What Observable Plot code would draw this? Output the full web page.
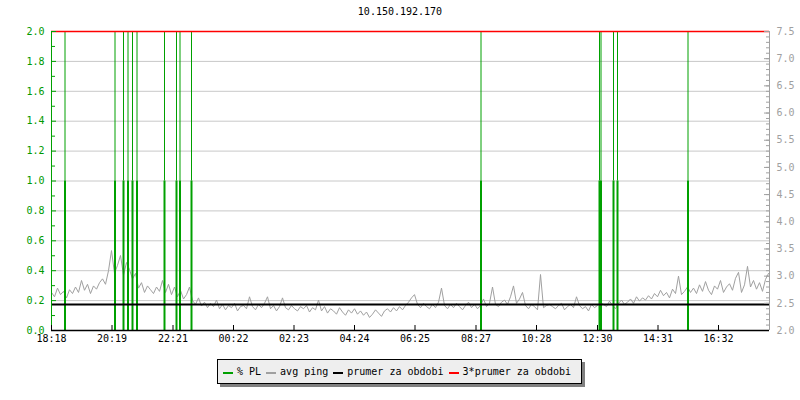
<!DOCTYPE html>
<html><head><meta charset="utf-8">
<script src="https://cdn.jsdelivr.net/npm/d3@7"></script>
<script src="https://cdn.jsdelivr.net/npm/@observablehq/plot@0.6"></script>
<style>
body{margin:0;background:#fff;font-family:"DejaVu Sans Mono",monospace;}
#wrap{position:relative;width:800px;height:400px;overflow:hidden;}
#chart{position:absolute;left:0;top:0;}
#title{position:absolute;left:0;top:6px;width:800px;text-align:center;font-size:10px;color:#000;}
#legend{position:absolute;left:217px;top:359px;width:363px;height:23px;border:1px solid #000;background:#eeeeee;box-shadow:3px 3px 0 #808080;display:flex;align-items:center;font-size:10px;color:#000;white-space:pre;}
#legend .it{display:flex;align-items:center;margin-left:5px;}
#legend .sw{display:inline-block;width:10px;height:2px;margin-right:4px;margin-top:3px;}
</style></head><body>
<div id="wrap"><div id="chart"></div><div id="title"></div><div id="legend"></div></div>
<script>
const chartTitle = "10.150.192.170";
const xTickMinutes = [0,121,243,364,485,606,727,849,970,1092,1213,1334];
const xTickLabels = ["18:18","20:19","22:21","00:22","02:23","04:24","06:25","08:27","10:28","12:30","14:31","16:32"];
const leftTicks = [0,0.2,0.4,0.6,0.8,1.0,1.2,1.4,1.6,1.8,2.0];
const rightTicks = [2.0,2.5,3.0,3.5,4.0,4.5,5.0,5.5,6.0,6.5,7.0,7.5];
const legendLabels = ["% PL","avg ping","prumer za obdobi","3*prumer za obdobi"];
const legendColors = ["#00a000","#a0a0a0","#000000","#ff0000"];
const stepMinutes = 6;
const avgPing = [
2.70,2.62,2.78,2.66,2.72,2.60,2.75,2.68,
2.80,2.70,2.92,2.74,2.85,2.68,2.82,2.76,2.88,
2.95,2.85,3.10,3.47,
3.05,3.20,3.38,3.02,3.25,3.12,2.95,3.05,
2.78,2.88,2.70,2.82,2.75,2.68,2.80,2.72,
2.92,2.70,2.85,2.66,2.80,
2.62,2.74,2.58,2.66,2.80,
2.55,2.48,2.60,2.45,2.52,2.42,2.50,2.44,2.56,2.40,2.48,2.38,2.46,2.42,2.50,2.36,2.44,
2.46,2.40,2.62,2.44,2.38,2.48,2.42,2.50,2.62,2.40,2.46,2.36,2.44,2.60,2.42,2.38,2.46,2.40,2.36,2.44,
2.40,2.46,2.34,2.42,2.38,2.56,2.36,2.44,2.32,2.40,2.36,2.30,2.42,2.34,2.28,2.38,2.32,2.40,2.30,2.36,
2.28,2.34,2.24,2.30,2.38,2.32,2.26,2.36,2.40,2.34,2.42,2.36,2.44,2.38,2.46,
2.52,2.60,2.66,2.48,2.42,2.50,2.44,2.40,2.48,2.42,2.52,2.78,2.46,2.40,2.48,
2.42,2.50,2.44,2.38,2.46,2.52,2.42,2.48,2.40,2.46,2.58,2.44,2.50,2.80,2.48,2.44,2.52,
2.56,2.48,2.62,2.82,2.50,2.58,2.70,2.46,2.40,2.48,2.44,2.38,3.03,2.42,2.46,2.48,
2.44,2.40,2.46,2.50,2.38,2.44,2.48,2.42,2.62,2.46,2.40,2.44,2.36,2.48,2.42,2.46,2.52,
2.48,2.44,2.54,2.46,2.40,2.50,2.56,2.48,2.52,2.58,2.50,2.62,2.54,2.60,2.56,2.64,
2.58,2.68,2.62,2.74,2.64,2.70,2.60,2.76,2.68,3.00,2.66,2.72,2.80,2.70,
2.78,2.68,2.84,2.72,2.90,2.74,2.66,2.82,2.76,2.92,2.70,2.80,2.86,2.74,2.96,3.07,2.70,2.84,3.18,2.80,2.92,2.76,2.88,2.72,2.94,3.05
];
const plMinutes = [27,127,144,153,162,171,226,250,257,280,859,1096,1099,1124,1132,1273];
const plLevel = [2,2,2,2,2,2,2,2,2,2,2,2,2,2,2,2];
const periodMean = 2.48;
const periodMean3 = 7.5;

const toLeft = v => (v - 2) / 5.5 * 2;
const fromLeft = d => 2 + d * 2.75;
const pingData = avgPing.map((v, i) => ({t: i * stepMinutes, v}));
const plData = plMinutes.map((t, i) => ({t, v: plLevel[i]}));
const leftMinor = d3.range(0.1, 2, 0.2);
const rightMinor = d3.range(2.0, 7.55, 0.1).map(toLeft);
const green = "#00a000", gray = "#a0a0a0";

const plot = Plot.plot({
  width: 800, height: 400,
  marginLeft: 51, marginRight: 31, marginTop: 31, marginBottom: 70,
  style: {fontFamily: "DejaVu Sans Mono, monospace", fontSize: "10px", background: "#fff", color: "#000"},
  x: {domain: [0, 1436], axis: null, label: null},
  y: {domain: [0, 2], axis: null, label: null},
  marks: [
    Plot.ruleY(leftTicks.filter(d => d > 0 && d < 2), {stroke: "#c8c8c8", strokeWidth: 1}),
    Plot.line(pingData, {x: "t", y: d => toLeft(d.v), stroke: gray, strokeWidth: 1}),
    Plot.ruleX(plData, {x: "t", y1: 0, y2: d => Math.min(d.v, 1), stroke: green, strokeWidth: 2}),
    Plot.ruleX(plData.filter(d => d.v > 1), {x: "t", y1: 1, y2: "v", stroke: green, strokeWidth: 1}),
    Plot.ruleY([toLeft(periodMean)], {stroke: "#000", strokeWidth: 2}),
    Plot.ruleY([toLeft(periodMean3)], {stroke: "#ff0000", strokeWidth: 1.5}),
    Plot.ruleX([0], {stroke: green, strokeWidth: 1}),
    Plot.tickY(leftTicks, {y: d => d, stroke: green, insetRight: 713}),
    Plot.tickY(leftMinor, {y: d => d, stroke: green, insetRight: 714}),
    Plot.axisY({anchor: "left", label: null, ticks: leftTicks, tickFormat: d => d.toFixed(1), tickSize: 0, tickPadding: 7, fill: "#009900"}),
    Plot.ruleX([1436], {stroke: gray, strokeWidth: 1}),
    Plot.tickY(rightTicks.map(toLeft), {y: d => d, stroke: gray, insetLeft: 713}),
    Plot.tickY(rightMinor, {y: d => d, stroke: gray, insetLeft: 715}),
    Plot.axisY({anchor: "right", label: null, ticks: rightTicks.map(toLeft), tickFormat: d => fromLeft(d).toFixed(1), tickSize: 0, tickPadding: 7, fill: gray}),
    Plot.ruleY([0], {stroke: "#000", strokeWidth: 1.5}),
    Plot.tickX(xTickMinutes, {x: d => d, stroke: "#000", insetTop: 294}),
    Plot.axisX({label: null, ticks: xTickMinutes, tickFormat: d => xTickLabels[xTickMinutes.indexOf(d)], tickSize: 0, tickPadding: 4, fill: "#000"})
  ]
});
document.getElementById("chart").appendChild(plot);
document.getElementById("title").textContent = chartTitle;
const leg = document.getElementById("legend");
legendLabels.forEach((lab, i) => {
  const it = document.createElement("span");
  it.className = "it";
  const sw = document.createElement("span");
  sw.className = "sw";
  sw.style.background = legendColors[i];
  it.appendChild(sw);
  it.appendChild(document.createTextNode(lab));
  leg.appendChild(it);
});
</script>
</body></html>
